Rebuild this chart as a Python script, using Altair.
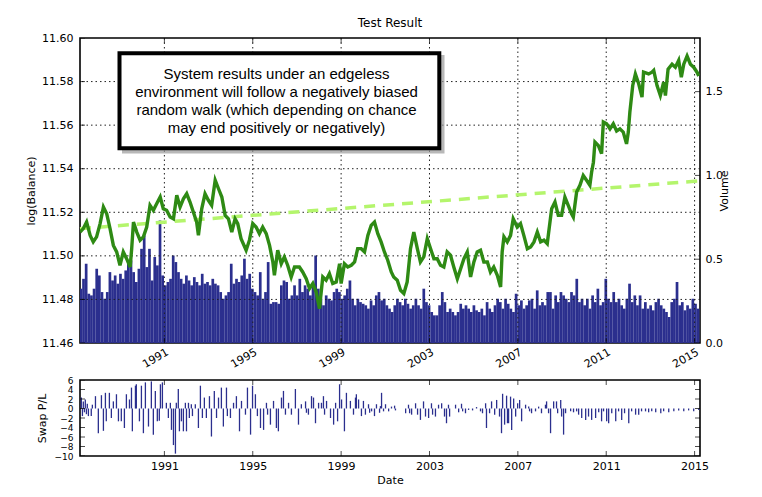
import altair as alt
import numpy as np
import pandas as pd

# ---------------- data ----------------
BAL_YEAR = [1987.18, 1987.33, 1987.48, 1987.64, 1987.78, 1987.93, 1988.09, 1988.24, 1988.39, 1988.54,
            1988.69, 1988.84, 1988.99, 1989.14, 1989.29, 1989.45, 1989.52, 1989.60, 1989.75, 1989.90,
            1990.05, 1990.20, 1990.35, 1990.50, 1990.65, 1990.81, 1990.95, 1991.10, 1991.26, 1991.41,
            1991.56, 1991.71, 1991.86, 1992.01, 1992.16, 1992.31, 1992.46, 1992.54, 1992.69, 1992.84,
            1992.99, 1993.14, 1993.30, 1993.45, 1993.60, 1993.75, 1993.90, 1994.05, 1994.20,
            1994.32, 1994.47, 1994.70, 1994.85, 1995.00, 1995.15, 1995.30, 1995.45, 1995.61, 1995.76,
            1995.91, 1995.98, 1996.13, 1996.29, 1996.43, 1996.58, 1996.74, 1996.89, 1997.11, 1997.26,
            1997.42, 1997.57, 1997.72, 1997.87, 1998.02, 1998.17, 1998.32, 1998.47, 1998.62, 1998.78,
            1998.93, 1999.00, 1999.15, 1999.30, 1999.46, 1999.61, 1999.75, 1999.91, 2000.06, 2000.21,
            2000.36, 2000.51, 2000.66, 2000.81, 2000.96, 2001.11, 2001.27,
            2001.38, 2001.54, 2001.69, 2001.84, 2001.99, 2002.14, 2002.29, 2002.45, 2002.59, 2002.74,
            2002.90, 2003.05, 2003.20, 2003.35, 2003.50, 2003.65, 2003.80, 2003.95, 2004.10, 2004.26,
            2004.41, 2004.56, 2004.71, 2004.86, 2005.01, 2005.16, 2005.31, 2005.46, 2005.62, 2005.76,
            2005.91, 2006.07, 2006.22, 2006.29, 2006.37, 2006.52, 2006.67, 2006.79, 2006.97, 2007.12,
            2007.27, 2007.43, 2007.58, 2007.73, 2007.88, 2008.03, 2008.18, 2008.33,
            2008.53, 2008.68, 2008.83, 2008.98, 2009.13, 2009.28, 2009.43, 2009.51, 2009.66, 2009.81,
            2009.96, 2010.11, 2010.26, 2010.34, 2010.42, 2010.49, 2010.64, 2010.79, 2010.87, 2011.02,
            2011.17, 2011.32, 2011.47, 2011.62, 2011.77, 2011.92, 2012.00, 2012.07, 2012.20,
            2012.32, 2012.47, 2012.62, 2012.69, 2012.92, 2013.07, 2013.15, 2013.30, 2013.45, 2013.60,
            2013.68, 2013.80, 2013.98, 2014.13, 2014.28, 2014.40, 2014.51, 2014.66, 2014.81, 2014.96,
            2015.11, 2015.19]

BAL_VALUE = [11.5109, 11.5125, 11.5155, 11.5094, 11.5064, 11.5087, 11.5148, 11.5224, 11.5193, 11.5125,
             11.5048, 11.5018, 11.4957, 11.5018, 11.4987, 11.4949, 11.5033, 11.5155, 11.5109, 11.5072,
             11.5087, 11.5132, 11.5232, 11.5209, 11.5239, 11.5270, 11.5216, 11.5209, 11.5178, 11.5170,
             11.5278, 11.5224, 11.5262, 11.5285, 11.5247, 11.5201, 11.5155, 11.5094, 11.5216, 11.5285,
             11.5255, 11.5232, 11.5347, 11.5308, 11.5270, 11.5186, 11.5170, 11.5109, 11.5170,
             11.5148, 11.5079, 11.5026, 11.5072, 11.5148, 11.5132, 11.5102, 11.5132, 11.5102, 11.5048,
             11.4972, 11.4911, 11.5026, 11.4964, 11.4995, 11.4957, 11.4903, 11.4949, 11.4949, 11.4926,
             11.4895, 11.4850, 11.4873, 11.4834, 11.4758, 11.4903, 11.4888, 11.4918, 11.4873, 11.4880,
             11.4964, 11.4873, 11.4964, 11.4949, 11.4957, 11.4972, 11.5033, 11.5033, 11.5018, 11.5094,
             11.5140, 11.5155, 11.5102, 11.5064, 11.5018, 11.4980, 11.4926,
             11.4903, 11.4888, 11.4842, 11.4827, 11.4880, 11.5033, 11.5109, 11.5033, 11.4972, 11.4995,
             11.5079, 11.5033, 11.4987, 11.4987, 11.4957, 11.4949, 11.5018, 11.5003, 11.4949, 11.4895,
             11.4941, 11.4987, 11.5018, 11.4903, 11.4972, 11.5018, 11.5026, 11.4972, 11.4972, 11.4926,
             11.4949, 11.4911, 11.4857, 11.5018, 11.5087, 11.5064, 11.5094, 11.5170, 11.5132, 11.5148,
             11.5094, 11.5033, 11.5041, 11.5064, 11.5109, 11.5064, 11.5072, 11.5056,
             11.5216, 11.5247, 11.5186, 11.5186, 11.5270, 11.5232, 11.5193, 11.5178, 11.5293, 11.5324,
             11.5369, 11.5347, 11.5324, 11.5385, 11.5430, 11.5522, 11.5507, 11.5469, 11.5614, 11.5606,
             11.5583, 11.5606, 11.5573, 11.5583, 11.5568, 11.5514, 11.5568, 11.5660, 11.5782,
             11.5835, 11.5790, 11.5729, 11.5843, 11.5835, 11.5843, 11.5851, 11.5782, 11.5736, 11.5797,
             11.5736, 11.5857, 11.5880, 11.5866, 11.5897, 11.5820, 11.5880, 11.5917, 11.5880, 11.5866,
             11.5843, 11.5826]

TREND_YEAR = [1987.18, 2015.19]
TREND_VALUE = [11.5125, 11.5344]

# volume, sampled regularly between these two dates
VOL_FIRST, VOL_LAST = 1987.22, 2015.16
VOLUME = [0.324, 0.383, 0.473, 0.294, 0.284, 0.324, 0.443, 0.403, 0.304, 0.264,
          0.304, 0.423, 0.373, 0.403, 0.354, 0.413, 0.383, 0.433, 0.483, 0.493,
          0.423, 0.364, 0.443, 0.562, 0.642, 0.453, 0.562, 0.373, 0.513, 0.463,
          0.731, 0.403, 0.344, 0.364, 0.383, 0.522, 0.483, 0.423, 0.383, 0.354,
          0.403, 0.373, 0.344, 0.393, 0.364, 0.344, 0.413, 0.354, 0.364, 0.344,
          0.383, 0.354, 0.344, 0.304, 0.264, 0.284, 0.304, 0.473, 0.354, 0.383,
          0.364, 0.403, 0.503, 0.383, 0.413, 0.324, 0.304, 0.284, 0.423,
          0.264, 0.304, 0.483, 0.234, 0.244, 0.244, 0.234, 0.344, 0.373, 0.364,
          0.264, 0.284, 0.344, 0.284, 0.383, 0.304, 0.344, 0.324, 0.284, 0.344,
          0.522, 0.324, 0.264, 0.225, 0.284, 0.264, 0.254, 0.304, 0.324, 0.304,
          0.264, 0.284, 0.324, 0.373, 0.264, 0.225, 0.264, 0.244, 0.234, 0.225,
          0.205, 0.254, 0.225, 0.284, 0.304, 0.254, 0.264, 0.225, 0.205, 0.185,
          0.225, 0.264, 0.244, 0.225, 0.264, 0.234, 0.205, 0.225, 0.264,
          0.225, 0.205, 0.324, 0.244, 0.225, 0.185, 0.165, 0.165, 0.225, 0.304,
          0.244, 0.185, 0.205, 0.185, 0.165, 0.185, 0.234, 0.205, 0.225, 0.205,
          0.185, 0.225, 0.195, 0.185, 0.205, 0.165, 0.244, 0.205, 0.185, 0.225,
          0.264, 0.244, 0.205, 0.264, 0.234, 0.205, 0.185, 0.294, 0.225, 0.254,
          0.205, 0.225, 0.254, 0.264, 0.205, 0.314, 0.225, 0.244, 0.225, 0.304,
          0.304, 0.205, 0.284, 0.244, 0.304, 0.284, 0.264, 0.244, 0.304,
          0.284, 0.383, 0.244, 0.264, 0.225, 0.264, 0.205, 0.284, 0.244, 0.324,
          0.225, 0.244, 0.383, 0.264, 0.244, 0.304, 0.244, 0.264, 0.225, 0.205,
          0.264, 0.354, 0.244, 0.284, 0.225, 0.284, 0.205, 0.244, 0.205, 0.225,
          0.195, 0.244, 0.264, 0.225, 0.205, 0.185, 0.155, 0.244, 0.264, 0.364,
          0.225, 0.244, 0.195, 0.225, 0.205, 0.264, 0.234, 0.205]

SWAP_YEAR = [1987.24, 1987.29, 1987.33, 1987.38, 1987.42, 1987.47, 1987.51, 1987.56, 1987.69, 1987.74,
             1987.88, 1988.01, 1988.15, 1988.24, 1988.33, 1988.37, 1988.51, 1988.60, 1988.69, 1988.83,
             1988.92, 1989.05, 1989.19, 1989.28, 1989.42, 1989.51, 1989.55, 1989.69, 1989.73, 1989.87,
             1989.96, 1990.05, 1990.14, 1990.28, 1990.41, 1990.50, 1990.59, 1990.68, 1990.77, 1990.82,
             1990.91, 1991.09, 1991.18, 1991.27, 1991.32, 1991.41, 1991.50, 1991.54, 1991.63, 1991.68,
             1991.77, 1991.86, 1991.95, 1992.00, 1992.09, 1992.13, 1992.22, 1992.27, 1992.40, 1992.54,
             1992.63, 1992.72, 1992.81, 1992.90, 1993.04, 1993.13, 1993.26, 1993.36, 1993.45, 1993.58,
             1993.67, 1993.81, 1993.85, 1993.99, 1994.13, 1994.26, 1994.40, 1994.49, 1994.67, 1994.76,
             1994.90, 1994.99, 1995.12, 1995.21, 1995.35, 1995.49, 1995.62, 1995.67, 1995.80, 1995.94,
             1996.07, 1996.16, 1996.30, 1996.39, 1996.48, 1996.62, 1996.75, 1996.93, 1997.07, 1997.20,
             1997.39, 1997.43, 1997.52, 1997.66, 1997.75, 1997.84, 1997.98, 1998.11, 1998.20, 1998.25,
             1998.34, 1998.52, 1998.66, 1998.75, 1998.84, 1998.93, 1999.02, 1999.15, 1999.24, 1999.42,
             1999.56, 1999.65, 1999.69, 1999.79, 1999.92, 2000.01, 2000.10, 2000.24, 2000.29, 2000.38,
             2000.51, 2000.60, 2000.74, 2000.78, 2000.83, 2000.92, 2001.01, 2001.15, 2001.28, 2001.42,
             2001.46, 2001.92, 2002.05, 2002.10, 2002.19, 2002.37, 2002.46, 2002.59, 2002.73, 2002.82,
             2002.96, 2003.09, 2003.14, 2003.27, 2003.41, 2003.55, 2003.68, 2003.77, 2003.86, 2003.91,
             2004.18, 2004.32, 2004.45, 2004.50, 2004.63, 2004.77, 2004.95, 2005.13, 2005.31, 2005.40,
             2005.54, 2005.58, 2005.72, 2005.81, 2005.95, 2006.04, 2006.17, 2006.26, 2006.31, 2006.40,
             2006.49, 2006.53, 2006.58, 2006.67, 2006.72, 2006.81, 2006.90, 2006.99, 2007.08, 2007.17,
             2007.35, 2007.49, 2007.53, 2007.62, 2007.80, 2007.94, 2008.07, 2008.25, 2008.30, 2008.39,
             2008.48, 2008.62, 2008.75, 2008.80, 2008.94, 2008.98, 2009.07, 2009.16, 2009.39, 2009.52,
             2009.66, 2009.75, 2009.89, 2010.07, 2010.20, 2010.34, 2010.52, 2010.66, 2010.79, 2010.88,
             2011.02, 2011.11, 2011.25, 2011.43, 2011.56, 2011.70, 2011.83, 2012.02, 2012.15, 2012.33,
             2012.47, 2012.60, 2012.78, 2012.92, 2013.06, 2013.24, 2013.47, 2013.60, 2013.83, 2014.06,
             2014.28, 2014.51, 2014.73, 2014.96, 2015.19]

SWAP_VALUE = [2.3, -1.6, 1.5, -0.8, 1.9, -1.2, 1.0, -1.6, -1.6, 0.8,
              2.6, -5.2, 2.8, -4.7, 3.3, -2.7, 3.3, -2.0, 1.5, 3.0,
              -2.7, -2.7, -4.1, 3.0, 1.9, 4.4, -4.8, 4.8, 5.1, -2.7,
              4.8, -5.2, 5.5, -3.8, 5.7, -5.5, 3.7, -2.7, -2.6, 5.1,
              5.5, 1.2, -2.0, 1.2, -4.5, -7.7, -9.5, 1.2, 4.1, -4.8,
              -2.7, -4.8, 1.2, -4.8, 1.2, -2.0, 0.9, -1.6, 0.9, -4.1,
              4.8, -2.0, 2.3, -2.0, 2.6, -5.9, 3.7, -2.0, 2.3, 4.4,
              -3.8, 4.4, -1.6, -2.0, 1.2, 2.6, -4.8, 1.6, -1.3, 4.4,
              -5.5, 4.8, 3.0, -1.6, -4.1, -4.5, 1.2, -1.3, -3.4, 1.6,
              -4.1, -4.8, 2.3, 3.7, -1.3, 1.2, -1.3, 4.1, -3.4, 0.9,
              1.5, -0.9, -1.3, 2.6, 2.3, -3.1, 1.2, 1.2, 2.6, -1.3,
              1.6, -2.0, -3.4, 1.2, -2.7, 5.1, 1.9, -4.8, 3.3, 1.6,
              -1.3, 2.3, 3.0, 1.9, -1.6, 1.6, -1.3, 0.9, -0.9, -0.6,
              -1.6, 0.9, -0.9, 0.5, 3.3, -0.6, 0.9, -0.6, 0.4, 0.6,
              -0.4, -1.0, 0.8, -1.0, -1.3, 1.1, -1.3, -2.4, 1.5, -1.7,
              -2.0, 1.1, -1.3, -1.7, 0.8, 1.1, -1.7, -3.1, 0.8, -1.7,
              0.8, -0.8, 1.0, -0.6, -1.0, -0.3, -0.4, 0.3, -0.6, -1.0,
              1.1, -4.1, -1.0, 1.5, -1.3, 1.8, -1.7, -5.2, 3.1, -3.4,
              2.7, -3.1, -3.1, 2.5, -4.5, 2.1, -1.7, 1.1, 1.8, -2.7,
              0.8, 0.4, -0.6, -1.0, -0.6, 0.4, -1.0, 0.8, 1.5, -1.0,
              -5.2, 1.5, 1.5, -1.0, 1.8, -1.7, -5.5, -1.0, -0.6, -0.8,
              -0.6, -1.3, -2.0, -2.4, -1.7, -2.4, -2.0, -0.8, -2.7, -0.6,
              -2.7, -3.1, -1.0, -2.7, -0.6, -2.4, -1.0, -3.1, -0.6, -1.3,
              -1.3, -0.6, -0.6, -0.8, -0.6, -0.8, -1.0, -0.6, -0.8, -0.6,
              -0.4, -0.6, -0.4, -0.6, -0.3]

YEAR_TICKS = [1991, 1995, 1999, 2003, 2007, 2011, 2015]
BAL_TICKS = [11.46, 11.48, 11.50, 11.52, 11.54, 11.56, 11.58, 11.60]
VOL_TICKS = [0.0, 0.5, 1.0, 1.5]
SWAP_TICKS = [-10, -8, -6, -4, -2, 0, 2, 4, 6]

NOTE = ["System results under an edgeless",
        "environment will follow a negatively biased",
        "random walk (which depending on chance",
        "may end positively or negatively)"]

# ---------------- frames ----------------
bal_df = pd.DataFrame({"year": BAL_YEAR, "value": BAL_VALUE})
trend_df = pd.DataFrame({"year": TREND_YEAR, "value": TREND_VALUE})
vol_df = pd.DataFrame({"year": np.linspace(VOL_FIRST, VOL_LAST, len(VOLUME)), "volume": VOLUME})
swap_df = pd.DataFrame({"year": SWAP_YEAR, "value": SWAP_VALUE})
xtick_df = pd.DataFrame({"year": YEAR_TICKS})
ytick_df = pd.DataFrame({"value": BAL_TICKS})
ygrid_df = pd.DataFrame({"value": BAL_TICKS[1:-1]})
vtick_df = pd.DataFrame({"volume": VOL_TICKS})
stick_df = pd.DataFrame({"value": SWAP_TICKS})
one_df = pd.DataFrame({"k": [0]})

W = 620
H_TOP = 305
H_BOT = 76
FONT = "DejaVu Sans"
NAVY = "#2b2f8e"
GREEN = "#2e8a14"
TREND = "#b4f56c"

xscale = alt.Scale(domain=[1987.18, 2015.245], nice=False, zero=False, padding=0)
x_top_axis = alt.Axis(values=YEAR_TICKS, format="d", labelAngle=330, labelAlign="right",
                      labelBaseline="top", labelPadding=3, grid=False, ticks=False, domain=False, title=None)
bal_scale = alt.Scale(domain=[11.46, 11.60], nice=False, zero=False)
bal_axis = alt.Axis(values=BAL_TICKS, format=".2f", grid=False, ticks=False, domain=False,
                    title="log(Balance)", titlePadding=5, labelPadding=7)
vol_scale = alt.Scale(domain=[0, 1.82], nice=False)
vol_axis = alt.Axis(orient="right", values=VOL_TICKS, format=".1f", grid=False, ticks=False,
                    domain=False, title="Volume", titleAngle=270, titlePadding=7, labelPadding=5)


def xticks(axis, scale_height):
    """inward tick marks on the top and bottom frame edges"""
    return [alt.Chart(xtick_df).mark_tick(color="black", thickness=1, size=10, clip=True).encode(
        x=alt.X("year:Q", scale=xscale, axis=axis), y=alt.value(v)) for v in (0, scale_height)]


vol = alt.Chart(vol_df).mark_bar(color=NAVY, size=2.7, clip=True).encode(
    x=alt.X("year:Q", scale=xscale, axis=x_top_axis),
    y=alt.Y("volume:Q", scale=vol_scale, axis=vol_axis),
)
vol_ticks = alt.Chart(vtick_df).mark_tick(color="black", thickness=1, size=10, clip=True,
                                          orient="horizontal").encode(
    y=alt.Y("volume:Q", scale=vol_scale, axis=vol_axis), x=alt.value(W))
volume_layer = alt.layer(vol, vol_ticks)

vgrid = alt.Chart(xtick_df).mark_rule(color="#222", strokeWidth=1, strokeDash=[1.5, 3]).encode(
    x=alt.X("year:Q", scale=xscale, axis=x_top_axis))
hgrid = alt.Chart(ygrid_df).mark_rule(color="#222", strokeWidth=1, strokeDash=[1.5, 3]).encode(
    y=alt.Y("value:Q", scale=bal_scale, axis=bal_axis))
bal_ticks = alt.Chart(ytick_df).mark_tick(color="black", thickness=1, size=10, clip=True,
                                          orient="horizontal").encode(
    y=alt.Y("value:Q", scale=bal_scale, axis=bal_axis), x=alt.value(0))
trend = alt.Chart(trend_df).mark_line(color=TREND, strokeWidth=3.5, strokeDash=[11, 8]).encode(
    x=alt.X("year:Q", scale=xscale, axis=x_top_axis),
    y=alt.Y("value:Q", scale=bal_scale, axis=bal_axis))
line = alt.Chart(bal_df).mark_line(color=GREEN, strokeWidth=3.4, clip=True).encode(
    x=alt.X("year:Q", scale=xscale, axis=x_top_axis),
    y=alt.Y("value:Q", scale=bal_scale, axis=bal_axis))

shadow = alt.Chart(one_df).mark_rect(fill="#9a9a9a", opacity=0.7).encode(
    x=alt.value(42), x2=alt.value(364.5), y=alt.value(17), y2=alt.value(115.5))
box = alt.Chart(one_df).mark_rect(fill="white", stroke="black", strokeWidth=4).encode(
    x=alt.value(39.5), x2=alt.value(359.3), y=alt.value(15.3), y2=alt.value(110.3))
note = alt.Chart(one_df).mark_text(text=NOTE, font="Liberation Sans", fontSize=15, lineHeight=18.1,
                                   align="center", baseline="middle", color="black").encode(
    x=alt.value(196.5), y=alt.value(36))

balance = alt.layer(vgrid, hgrid, *xticks(x_top_axis, H_TOP), bal_ticks, trend, line, shadow, box, note)

top = alt.layer(volume_layer, balance).resolve_scale(y="independent").properties(
    width=W, height=H_TOP,
    title=alt.Title("Test Result", fontSize=12, font=FONT, fontWeight="normal", anchor="middle",
                    frame="group", offset=2))

x_bot_axis = alt.Axis(values=YEAR_TICKS, format="d", labelAngle=0, grid=False, ticks=False,
                      domain=False, title="Date", labelPadding=4, titlePadding=3)
swap_scale = alt.Scale(domain=[-10, 6], nice=False)
swap_axis = alt.Axis(values=SWAP_TICKS, format="d", grid=False, ticks=False, domain=False,
                     title="Swap P/L", titlePadding=7, labelPadding=7, labelOverlap=False,
                     labelFlush=False, labelFontSize=9)

swap = alt.Chart(swap_df).mark_rule(color=NAVY, strokeWidth=1.3, clip=True).encode(
    x=alt.X("year:Q", scale=xscale, axis=x_bot_axis),
    y=alt.Y("value:Q", scale=swap_scale, axis=swap_axis),
    y2=alt.datum(0),
)
swap_ticks = [alt.Chart(stick_df).mark_tick(color="black", thickness=1, size=10, clip=True,
                                            orient="horizontal").encode(
    y=alt.Y("value:Q", scale=swap_scale, axis=swap_axis), x=alt.value(v)) for v in (0, W)]

bottom = alt.layer(swap, *xticks(x_bot_axis, H_BOT), *swap_ticks).properties(width=W, height=H_BOT)

chart = alt.vconcat(top, bottom, spacing=4).properties(
    padding={"left": 16, "top": 8, "right": 5, "bottom": 5},
    background="white",
).configure_view(stroke="black", strokeWidth=1.6).configure_axis(
    labelFont=FONT, labelFontSize=11, labelColor="black",
    titleFont=FONT, titleFontSize=11, titleFontWeight="normal", titleColor="black"
)

chart.save("out.html", embed_options={"renderer": "svg", "actions": False})
